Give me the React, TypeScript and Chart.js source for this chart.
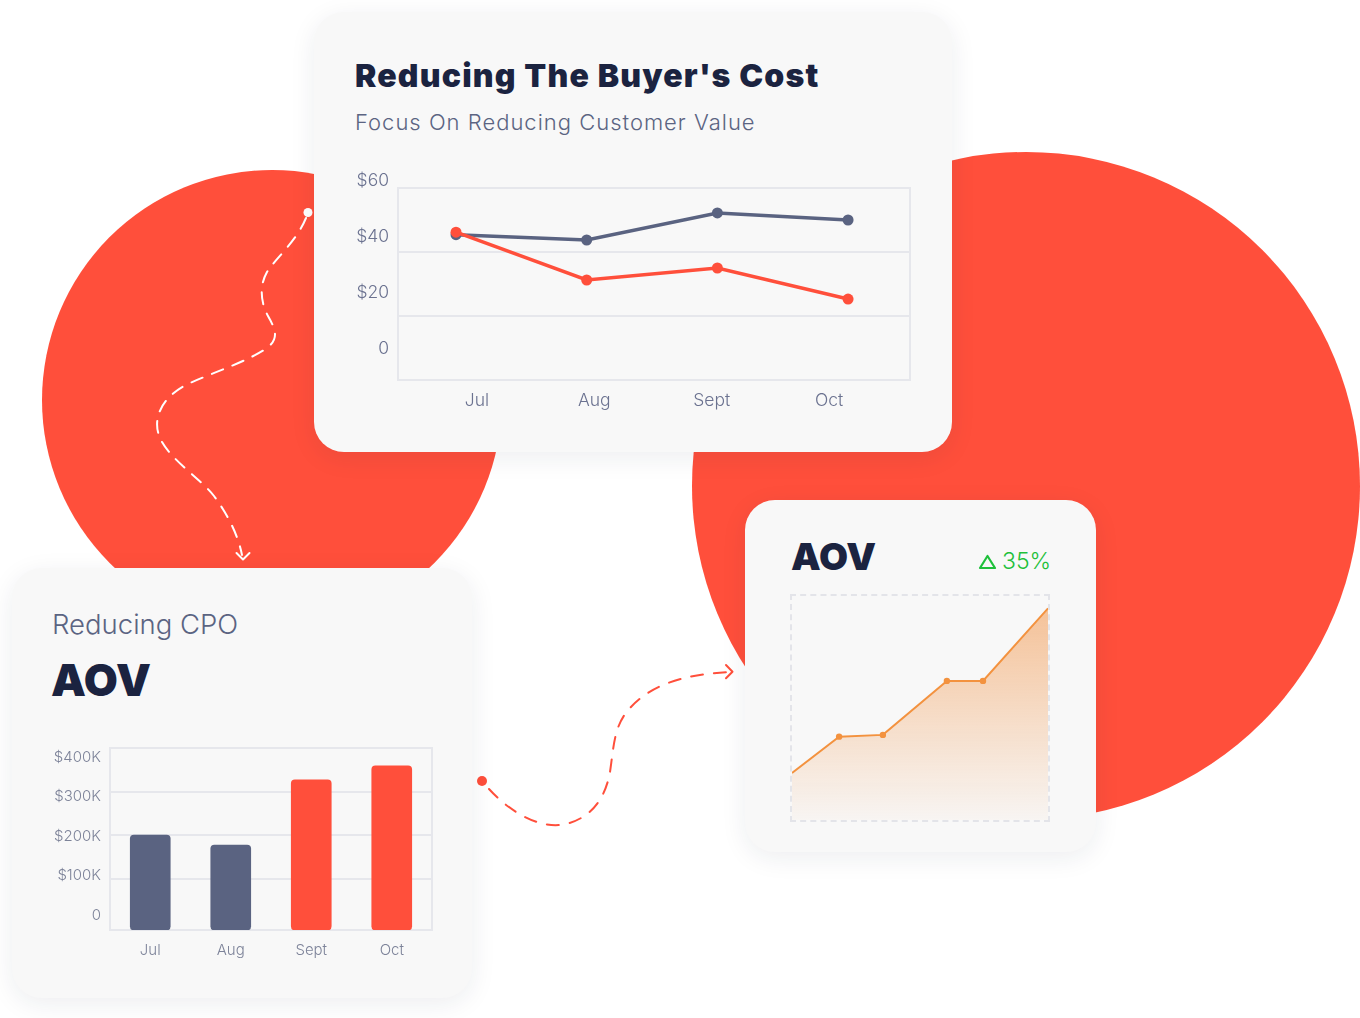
import React, { useEffect, useRef } from "react";
import { Chart, registerables } from "chart.js";

Chart.register(...registerables);

// ---------- data ----------
const costMonths = ["Jul", "Aug", "Sept", "Oct"];
const costCurrent = [45.4, 43.75, 52.2, 50.0];
const costReduced = [46.2, 31.25, 35.0, 25.3];
const costTicks = [0, 20, 40, 60];

const cpoMonths = ["Jul", "Aug", "Sept", "Oct"];
const cpoValues = [200, 177, 327, 359]; // $K
const cpoTicks = [0, 100, 200, 300, 400];

const aovX = [0, 18.4, 35.5, 60.5, 74.6, 100];
const aovY = [21, 37.2, 38, 62.1, 62.1, 94.5];
const aovChange = "35%";

// ---------- styles ----------
const RED = "#FF4F3B";
const SLATE = "#5A6381";
const NAVY = "#1B2340";
const SUB = "#5B6482";
const GRID = "#E6E7EC";
const ORANGE = "#F3923F";
const GREEN = "#1FC03B";
const CARD_BG = "#F8F8F8";
const FONT = "Inter, Roboto, 'Noto Sans', sans-serif";

function ChartCanvas({ make, left, top, width, height }: any) {
  const ref = useRef<HTMLCanvasElement | null>(null);
  useEffect(() => {
    const chart = new Chart(ref.current as HTMLCanvasElement, make());
    return () => chart.destroy();
  }, []);
  return (
    <canvas
      ref={ref}
      width={width}
      height={height}
      style={{ position: "absolute", left, top, width, height, display: "block" }}
    />
  );
}

const setTicks = (vals: number[]) => (axis: any) => {
  axis.ticks = vals.map((v) => ({ value: v }));
};

function makeCostChart(): any {
  const tickFont = { family: FONT, size: 17.5, weight: "300" };
  return {
    type: "line",
    data: {
      datasets: [
        {
          label: "Reduced",
          data: costMonths.map((_, i) => ({ x: i, y: costReduced[i] })),
          borderColor: RED,
          backgroundColor: RED,
          borderWidth: 3.5,
          pointRadius: 5.5,
          pointHoverRadius: 5.5,
          pointBorderWidth: 0,
          tension: 0,
          xAxisID: "xd",
          yAxisID: "yg",
        },
        {
          label: "Current",
          data: costMonths.map((_, i) => ({ x: i, y: costCurrent[i] })),
          borderColor: SLATE,
          backgroundColor: SLATE,
          borderWidth: 3.5,
          pointRadius: 5.5,
          pointHoverRadius: 5.5,
          pointBorderWidth: 0,
          tension: 0,
          xAxisID: "xd",
          yAxisID: "yg",
        },
      ],
    },
    options: {
      animation: false,
      responsive: false,
      events: [],
      layout: { padding: { top: 23, right: 20, left: 0, bottom: 0 } },
      plugins: { legend: { display: false }, tooltip: { enabled: false } },
      scales: {
        xd: { type: "linear", display: false, min: -0.444, max: 3.474 },
        xl: {
          type: "linear",
          position: "bottom",
          min: -0.673,
          max: 3.69,
          afterBuildTicks: setTicks(costMonths.map((_, i) => i)),
          ticks: {
            callback: (v: number) => costMonths[v],
            font: tickFont,
            color: "#6B7290",
            padding: 10,
          },
          grid: { display: false, drawTicks: false },
          border: { display: true, color: GRID, width: 2 },
          afterFit: (a: any) => {
            a.height = 40;
          },
        },
        yl: {
          type: "linear",
          position: "left",
          min: -8.571,
          max: 60,
          afterBuildTicks: setTicks(costTicks),
          ticks: {
            labelOffset: -7,
            padding: 9,
            font: tickFont,
            color: "#6B7290",
            callback: (v: number) => (v === 0 ? "0" : "$" + v),
          },
          grid: { display: false, drawTicks: false },
          border: { display: true, color: GRID, width: 2 },
          afterFit: (a: any) => {
            a.width = 58;
          },
        },
        yg: {
          type: "linear",
          position: "right",
          min: 0,
          max: 60,
          afterBuildTicks: setTicks(costTicks),
          ticks: { display: false },
          grid: { color: GRID, lineWidth: 2, drawTicks: false },
          border: { display: true, color: GRID, width: 2 },
          afterFit: (a: any) => {
            a.width = 0;
          },
        },
      },
    },
  };
}

const CPO_GRID_MIN = -18.18;

function makeCpoChart(): any {
  const tickFont = { family: FONT, size: 15, weight: "300" };
  return {
    type: "bar",
    data: {
      labels: cpoMonths,
      datasets: [
        {
          data: cpoValues,
          backgroundColor: cpoValues.map((_, i) => (i < 2 ? SLATE : RED)),
          borderRadius: 4,
          borderSkipped: false,
          barThickness: 40,
          base: CPO_GRID_MIN,
          xAxisID: "x",
          yAxisID: "yg",
        },
      ],
    },
    options: {
      animation: false,
      responsive: false,
      events: [],
      layout: { padding: { top: 16, right: 18, left: 0, bottom: 0 } },
      plugins: { legend: { display: false }, tooltip: { enabled: false } },
      scales: {
        x: {
          type: "category",
          offset: true,
          grid: { display: false, drawTicks: false },
          border: { display: true, color: GRID, width: 2 },
          ticks: { font: tickFont, color: "#7D8399", padding: 11 },
          afterFit: (a: any) => {
            a.height = 50;
          },
        },
        yl: {
          type: "linear",
          position: "left",
          min: -60,
          max: 400,
          afterBuildTicks: setTicks(cpoTicks),
          ticks: {
            labelOffset: 9,
            padding: 9,
            font: tickFont,
            color: "#7D8399",
            callback: (v: number) => (v === 0 ? "0" : "$" + v + "K"),
          },
          grid: { display: false, drawTicks: false },
          border: { display: true, color: GRID, width: 2 },
          afterFit: (a: any) => {
            a.width = 70;
          },
        },
        yg: {
          type: "linear",
          position: "right",
          min: CPO_GRID_MIN,
          max: 400,
          afterBuildTicks: setTicks(cpoTicks.slice(1)),
          ticks: { display: false },
          grid: { color: GRID, lineWidth: 2, drawTicks: false },
          border: { display: true, color: GRID, width: 2 },
          afterFit: (a: any) => {
            a.width = 0;
          },
        },
      },
    },
  };
}

function makeAovChart(): any {
  return {
    type: "line",
    data: {
      datasets: [
        {
          data: aovX.map((x, i) => ({ x, y: aovY[i] })),
          borderColor: ORANGE,
          borderWidth: 2,
          tension: 0,
          fill: "origin",
          backgroundColor: (ctx: any) => {
            const chart = ctx.chart;
            const area = chart.chartArea;
            if (!area) return "rgba(242,150,75,0.3)";
            const g = chart.ctx.createLinearGradient(0, area.top, 0, area.bottom);
            g.addColorStop(0, "rgba(242,150,75,0.58)");
            g.addColorStop(1, "rgba(242,150,75,0.03)");
            return g;
          },
          pointRadius: (ctx: any) =>
            ctx.dataIndex === 0 || ctx.dataIndex === aovX.length - 1 ? 0 : 3.2,
          pointBackgroundColor: ORANGE,
          pointBorderWidth: 0,
        },
      ],
    },
    options: {
      animation: false,
      responsive: false,
      events: [],
      layout: { padding: 0 },
      plugins: { legend: { display: false }, tooltip: { enabled: false } },
      scales: {
        x: { type: "linear", display: false, min: 0, max: 100 },
        y: { type: "linear", display: false, min: 0, max: 100 },
      },
    },
  };
}

const abs = (o: any): any => ({ position: "absolute", ...o });

const card = (left: number, top: number, width: number, height: number): any =>
  abs({
    left,
    top,
    width,
    height,
    background: CARD_BG,
    borderRadius: 30,
    boxShadow: "0 6px 26px rgba(25,35,65,0.08)",
  });

const text = (o: any): any =>
  abs({ lineHeight: 1, whiteSpace: "nowrap", fontFamily: FONT, margin: 0, ...o });

export default function App() {
  return (
    <div
      style={{
        position: "absolute",
        left: 0,
        top: 0,
        width: 1360,
        height: 1018,
        overflow: "hidden",
        background: "#FFFFFF",
        fontFamily: FONT,
      }}
    >
      {/* background circles */}
      <div style={abs({ left: 42, top: 170, width: 460, height: 460, borderRadius: "50%", background: RED })} />
      <div style={abs({ left: 692, top: 152, width: 668, height: 668, borderRadius: "50%", background: RED })} />

      {/* dashed connectors */}
      <svg width={1360} height={1018} style={abs({ left: 0, top: 0 })}>
        <circle cx={308} cy={212.5} r={4.5} fill="#FFFFFF" />
        <path
          d="M306,218 C 296,242 276,258 267,272 C 258,288 262,305 268,316 C 276,330 280,340 264,350 C 245,362 215,372 190,383 C 160,397 152,420 160,438 C 170,460 200,478 214,496 C 228,515 238,535 242,555"
          fill="none"
          stroke="#FFFFFF"
          strokeWidth={2}
          strokeDasharray="12 10"
          strokeLinecap="round"
        />
        <path d="M236.5,553 L243,559.5 L249.5,553" fill="none" stroke="#FFFFFF" strokeWidth={2} strokeLinecap="round" strokeLinejoin="round" />

        <circle cx={482} cy={781} r={5} fill={RED} />
        <path
          d="M489,789 C 510,812 540,830 566,824 C 590,818 605,800 610,772 C 614,745 614,725 630,708 C 650,686 680,675 728,672"
          fill="none"
          stroke={RED}
          strokeWidth={2}
          strokeDasharray="12 11"
          strokeLinecap="round"
        />
        <path d="M726,665 L732.5,671.7 L726,678.3" fill="none" stroke={RED} strokeWidth={2} strokeLinecap="round" strokeLinejoin="round" />
      </svg>

      {/* top card */}
      <div style={card(314, 12, 638, 440)} />
      <div style={text({ left: 355, top: 59.8, fontSize: 32, fontWeight: 900, color: NAVY, letterSpacing: 1.2 })}>
        Reducing The Buyer's Cost
      </div>
      <div style={text({ left: 355, top: 111, fontSize: 22, fontWeight: 300, color: SUB, letterSpacing: 1.0 })}>
        Focus On Reducing Customer Value
      </div>
      <ChartCanvas make={makeCostChart} left={340} top={165} width={590} height={255} />

      {/* bottom-left card */}
      <div style={card(12, 568, 460, 430)} />
      <div style={text({ left: 52, top: 611, fontSize: 27.5, fontWeight: 300, color: SUB })}>Reducing CPO</div>
      <div style={text({ left: 51, top: 657.7, fontSize: 44, fontWeight: 900, color: NAVY })}>AOV</div>
      <ChartCanvas make={makeCpoChart} left={40} top={730} width={410} height={250} />

      {/* right card */}
      <div style={card(745, 500, 351, 352)} />
      <div style={text({ left: 791, top: 537.6, fontSize: 37.5, fontWeight: 900, color: NAVY })}>AOV</div>
      <svg width={20} height={18} style={abs({ left: 978, top: 553 })}>
        <path d="M9.5,3 L17,15 L2,15 Z" fill="none" stroke={GREEN} strokeWidth={2.2} strokeLinejoin="round" />
      </svg>
      <div style={text({ left: 1002, top: 550.1, fontSize: 23, fontWeight: 300, color: GREEN })}>{aovChange}</div>
      <div
        style={abs({
          left: 790,
          top: 594,
          width: 260,
          height: 228,
          boxSizing: "border-box",
          border: "2px dashed #E3E4E9",
        })}
      />
      <ChartCanvas make={makeAovChart} left={792} top={596} width={256} height={224} />
    </div>
  );
}
